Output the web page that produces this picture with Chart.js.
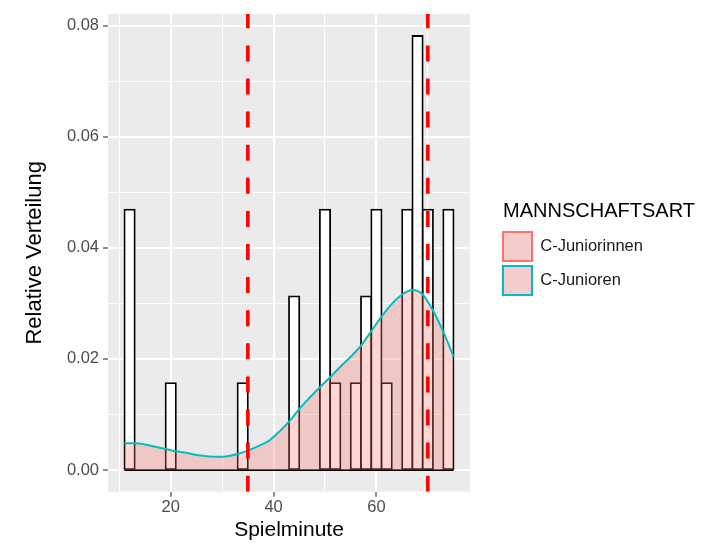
<!DOCTYPE html>
<html>
<head>
<meta charset="utf-8">
<title>Spielminute</title>
<script src="https://cdn.jsdelivr.net/npm/chart.js@4.4.0/dist/chart.umd.min.js"></script>
<style>
  html, body { margin: 0; padding: 0; background: #fff; }
  canvas { display: block; }
</style>
</head>
<body>
<canvas id="chart" width="726" height="545"></canvas>
<script>
// Histogram: bin centres (width 2 min) and number of goals per bin
const BIN_WIDTH = 2;
const BIN_MIDS = [12, 14, 16, 18, 20, 22, 24, 26, 28, 30, 32, 34, 36, 38, 40, 42,
                  44, 46, 48, 50, 52, 54, 56, 58, 60, 62, 64, 66, 68, 70, 72, 74];
const BIN_COUNTS = [3, 0, 0, 0, 1, 0, 0, 0, 0, 0, 0, 1, 0, 0, 0, 0,
                    2, 0, 0, 3, 1, 0, 1, 2, 3, 1, 0, 3, 5, 3, 0, 3];

// Density curve
const DENSITY_X = [11, 13, 15, 17, 19, 21, 23, 25, 27, 29, 31, 33, 35, 37, 39, 41, 43,
                   45, 47, 49, 51, 53, 55, 57, 59, 61, 63, 65, 67, 69, 71, 73, 75];
const DENSITY_Y = [0.0048, 0.0048, 0.0046, 0.0042, 0.0038, 0.0034, 0.0031, 0.0027, 0.0025,
                   0.0024, 0.0025, 0.0029, 0.0035, 0.0043, 0.0052, 0.0068, 0.0087, 0.0110,
                   0.0130, 0.0149, 0.0167, 0.0186, 0.0204, 0.0224, 0.0250, 0.0276, 0.0299,
                   0.0316, 0.0324, 0.0316, 0.0287, 0.0249, 0.0204];

// Dashed reference lines
const VLINES = [35, 70];

// Axes
const X_RANGE = [7.8, 78.2];
const Y_RANGE = [-0.0039, 0.0821];
const X_MAJOR = [20, 40, 60];
const X_GRID = [10, 20, 30, 40, 50, 60, 70];
const Y_MAJOR = [0, 0.02, 0.04, 0.06, 0.08];
const Y_GRID = [0, 0.01, 0.02, 0.03, 0.04, 0.05, 0.06, 0.07, 0.08];

// Legend
const LEGEND_TITLE = 'MANNSCHAFTSART';
const LEGEND_ITEMS = ['C-Juniorinnen', 'C-Junioren'];
const LEGEND_BORDERS = ['#F8766D', '#00BFC4'];
const LEGEND_FILL = 'rgb(243, 204, 203)';
const LEGEND_WIDTH = 202;

Chart.defaults.font.family = "'Liberation Sans', Arial, sans-serif";

// Grey ggplot panel
const panelBackground = {
  id: 'panelBackground',
  beforeDraw(chart) {
    const { ctx, chartArea: a } = chart;
    ctx.save();
    ctx.fillStyle = '#EBEBEB';
    ctx.fillRect(a.left, a.top, a.right - a.left, a.bottom - a.top);
    ctx.restore();
  }
};

// legend box must be wide enough for its title
const legendWidth = {
  id: 'legendWidth',
  beforeLayout(chart) {
    const lg = chart.legend;
    if (lg && !lg._widthFixed) {
      const fit = lg.fit;
      lg.fit = function () {
        fit.call(this);
        this.width = LEGEND_WIDTH;
      };
      lg._widthFixed = true;
    }
  }
};

const total = BIN_COUNTS.reduce((s, c) => s + c, 0);
const barData = BIN_MIDS.map((x, i) => ({ x: x, y: BIN_COUNTS[i] / (total * BIN_WIDTH) }));
const densityData = DENSITY_X.map((x, i) => ({ x: x, y: DENSITY_Y[i] }));
const firstEdge = BIN_MIDS[0] - BIN_WIDTH / 2;
const lastEdge = BIN_MIDS[BIN_MIDS.length - 1] + BIN_WIDTH / 2;

const vlineSets = VLINES.map(v => ({
  type: 'line',
  label: 'vline ' + v,
  data: [{ x: v, y: Y_RANGE[0] }, { x: v, y: Y_RANGE[1] }],
  borderColor: '#FF0000',
  borderWidth: 3.6,
  borderDash: [16, 17.1],
  pointRadius: 0,
  fill: false,
  order: 0
}));

new Chart(document.getElementById('chart'), {
  type: 'bar',
  data: {
    datasets: [
      ...vlineSets,
      {
        type: 'line',
        label: 'Dichte',
        data: densityData,
        borderColor: '#00BFC4',
        borderWidth: 2,
        backgroundColor: 'rgba(248, 118, 109, 0.3)',
        fill: 'origin',
        pointRadius: 0,
        cubicInterpolationMode: 'monotone',
        order: 1
      },
      {
        type: 'line',
        label: 'Basis',
        data: [{ x: firstEdge, y: 0 }, { x: lastEdge, y: 0 }],
        borderColor: '#000000',
        borderWidth: 1.8,
        pointRadius: 0,
        fill: false,
        order: 2
      },
      {
        type: 'bar',
        label: 'Histogramm',
        data: barData,
        backgroundColor: ctx => (ctx.raw && ctx.raw.y > 0 ? '#FFFFFF' : 'rgba(0,0,0,0)'),
        borderColor: '#000000',
        borderWidth: 1.8,
        borderSkipped: false,
        inflateAmount: 0.9,
        barPercentage: 1,
        categoryPercentage: 1,
        order: 3
      }
    ]
  },
  options: {
    responsive: false,
    devicePixelRatio: 1,
    animation: false,
    events: [],
    layout: { padding: { left: 0, top: 5, right: 26, bottom: 0 } },
    scales: {
      x: {
        type: 'linear',
        min: X_RANGE[0],
        max: X_RANGE[1],
        offset: false,
        afterBuildTicks: s => { s.ticks = X_GRID.map(v => ({ value: v })); },
        afterFit: s => { s.height = 53.3; },
        grid: {
          offset: false,
          color: '#FFFFFF',
          lineWidth: c => (c.tick && X_MAJOR.includes(c.tick.value) ? 2 : 1),
          tickColor: c => (c.tick && X_MAJOR.includes(c.tick.value) ? '#333333' : 'rgba(0,0,0,0)'),
          tickLength: 5,
          tickWidth: 1.1
        },
        border: { display: false },
        ticks: {
          autoSkip: false,
          maxRotation: 0,
          padding: 1,
          color: '#4D4D4D',
          font: { size: 16.5 },
          callback: v => (X_MAJOR.includes(v) ? String(v) : '')
        },
        title: {
          display: true,
          text: 'Spielminute',
          color: '#000000',
          font: { size: 21 },
          padding: { top: 0, bottom: 2.4 }
        }
      },
      y: {
        type: 'linear',
        min: Y_RANGE[0],
        max: Y_RANGE[1],
        afterBuildTicks: s => { s.ticks = Y_GRID.map(v => ({ value: v })); },
        afterFit: s => { s.width = 108; },
        grid: {
          color: '#FFFFFF',
          lineWidth: c => (c.tick && Y_MAJOR.includes(c.tick.value) ? 2 : 1),
          tickColor: c => (c.tick && Y_MAJOR.includes(c.tick.value) ? '#333333' : 'rgba(0,0,0,0)'),
          tickLength: 5,
          tickWidth: 1.1
        },
        border: { display: false },
        ticks: {
          autoSkip: false,
          padding: 4,
          color: '#4D4D4D',
          font: { size: 16.5 },
          callback: v => (Y_MAJOR.includes(v) ? v.toFixed(2) : '')
        },
        title: {
          display: true,
          text: 'Relative Verteilung',
          color: '#000000',
          font: { size: 22 },
          padding: { top: 22, bottom: 0 }
        }
      },
      // empty spacer between panel and legend
      y2: {
        type: 'linear',
        position: 'right',
        display: true,
        grid: { display: false, drawTicks: false },
        ticks: { display: false },
        border: { display: false },
        afterFit: s => { s.width = 28; }
      }
    },
    plugins: {
      tooltip: { enabled: false },
      legend: {
        position: 'right',
        align: 'start',
        fullSize: false,
        title: {
          display: true,
          text: LEGEND_TITLE,
          position: 'center',
          color: '#000000',
          font: { size: 20 },
          padding: { top: 188, bottom: 1.2 }
        },
        labels: {
          boxWidth: 29,
          boxHeight: 29,
          padding: 5,
          color: '#1A1A1A',
          font: { size: 16.5 },
          generateLabels: () => LEGEND_ITEMS.map((text, i) => ({
            text: text,
            fillStyle: LEGEND_FILL,
            strokeStyle: LEGEND_BORDERS[i],
            lineWidth: 2,
            fontColor: '#1A1A1A',
            hidden: false,
            datasetIndex: i
          }))
        }
      }
    }
  },
  plugins: [panelBackground, legendWidth]
});
</script>
</body>
</html>
